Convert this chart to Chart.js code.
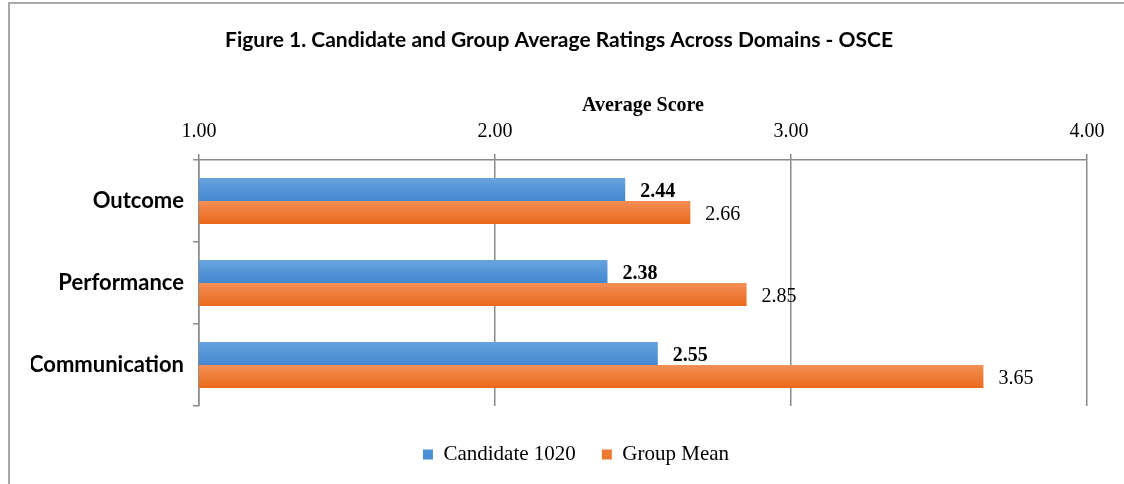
<!DOCTYPE html>
<html>
<head>
<meta charset="utf-8">
<script src="https://cdn.jsdelivr.net/npm/chart.js@4.4.1/dist/chart.umd.min.js"></script>
<style>
    html, body { margin: 0; padding: 0; background: #fff; overflow: hidden; }
    #wrap { position: relative; width: 1124px; height: 484px; }
    #frame { position: absolute; left: 8px; top: 2px; width: 1200px; height: 600px;
             border-left: 2px solid #a9a9a9; border-top: 2px solid #a9a9a9; pointer-events: none; }
</style>
</head>
<body>
<div id="wrap">
    <canvas id="chart" width="1124" height="484"></canvas>
    <div id="frame"></div>
</div>
<script>
// ==================================================
// DATA
// ==================================================
const domains = ['Outcome', 'Performance', 'Communication'];
const candidateScores = [2.44, 2.38, 2.55];
const groupMeans = [2.66, 2.85, 3.65];
const seriesNames = ['Candidate 1020', 'Group Mean'];
const axisMin = 1, axisMax = 4;

const serif = "'Liberation Serif', 'Times New Roman', serif";
const sans = "Lato, 'Open Sans', sans-serif";
const gridGray = '#8a8a8a';

// Per-bar vertical gradient, built from the category scale
function barGradient(top, bottom, isUpper) {
    return (context) => {
        const chart = context.chart;
        const yScale = chart.scales.y;
        if (!yScale || context.dataIndex === undefined) return bottom;
        const center = yScale.getPixelForValue(context.dataIndex);
        const half = yScale.height / domains.length * 0.56 / 2;
        if (!Number.isFinite(center) || !Number.isFinite(half) || half <= 0) return bottom;
        const y0 = isUpper ? center - half : center;
        const g = chart.ctx.createLinearGradient(0, y0, 0, y0 + half);
        g.addColorStop(0, top);
        g.addColorStop(1, bottom);
        return g;
    };
}

// Value labels to the right of each bar
const valueLabels = {
    id: 'valueLabels',
    afterDatasetsDraw(chart) {
        const { ctx } = chart;
        ctx.save();
        ctx.fillStyle = '#000';
        ctx.textAlign = 'left';
        ctx.textBaseline = 'middle';
        chart.data.datasets.forEach((ds, di) => {
            ctx.font = (di === 0 ? 'bold ' : '') + '20px ' + serif;
            chart.getDatasetMeta(di).data.forEach((bar, i) => {
                ctx.fillText(ds.data[i].toFixed(2), bar.x + 15, bar.y + 2);
            });
        });
        ctx.restore();
    }
};

// Legend sits a little right of the plot centre in the original
const legendNudge = {
    id: 'legendNudge',
    afterLayout(chart) {
        if (chart.legend) { chart.legend.left += 17; chart.legend.right += 17; }
    }
};

new Chart(document.getElementById('chart'), {
    type: 'bar',
    data: {
        labels: domains,
        datasets: [
            { label: seriesNames[0], data: candidateScores, backgroundColor: barGradient('#68a3de', '#4287cf', true), borderWidth: 0 },
            { label: seriesNames[1], data: groupMeans, backgroundColor: barGradient('#f38f56', '#e9691b', false), borderWidth: 0 },
        ],
    },
    options: {
        indexAxis: 'y',
        responsive: false,
        animation: false,
        layout: { padding: { left: 31, right: 37, top: 0, bottom: 9 } },
        datasets: { bar: { categoryPercentage: 0.56, barPercentage: 1 } },
        scales: {
            x: {
                position: 'top',
                min: axisMin, max: axisMax,
                afterFit: (s) => { s.height = 98.6; },
                ticks: { stepSize: 1, padding: 10, color: '#000', font: { family: serif, size: 20 }, callback: v => Number(v).toFixed(2) },
                grid: { color: gridGray, lineWidth: 1.5, tickLength: 6 },
                border: { color: gridGray, width: 1.5 },
                title: { display: true, text: 'Average Score', color: '#000', font: { family: serif, size: 20, weight: 'bold' }, padding: { top: 32, bottom: 0 } },
            },
            y: {
                afterFit: (s) => { s.width = 168; },
                ticks: { padding: 9, color: '#000', font: { family: sans, size: 22, weight: 'bold' } },
                grid: { offset: true, drawOnChartArea: false, color: gridGray, lineWidth: 1.5, tickLength: 6 },
                border: { color: gridGray, width: 1.5 },
            },
        },
        plugins: {
            title: {
                display: true,
                text: 'Figure 1. Candidate and Group Average Ratings Across Domains - OSCE',
                color: '#000',
                font: { family: sans, size: 21, weight: 'bold' },
                padding: { top: 28, bottom: 8.2 },
            },
            legend: {
                position: 'bottom',
                title: { display: true, text: ' ', font: { size: 5 }, padding: { top: 3, bottom: 3 } },
                labels: {
                    boxWidth: 10, boxHeight: 10, padding: 26, color: '#000', font: { family: serif, size: 21 },
                    generateLabels: (chart) => chart.data.datasets.map((ds, i) => ({
                        text: ds.label, fontColor: '#000', fillStyle: i === 0 ? '#4a8ed5' : '#ee7a30',
                        strokeStyle: 'rgba(0,0,0,0)', lineWidth: 0, datasetIndex: i,
                    })),
                },
            },
            tooltip: { enabled: false },
        },
    },
    plugins: [valueLabels, legendNudge],
});
</script>
</body>
</html>
